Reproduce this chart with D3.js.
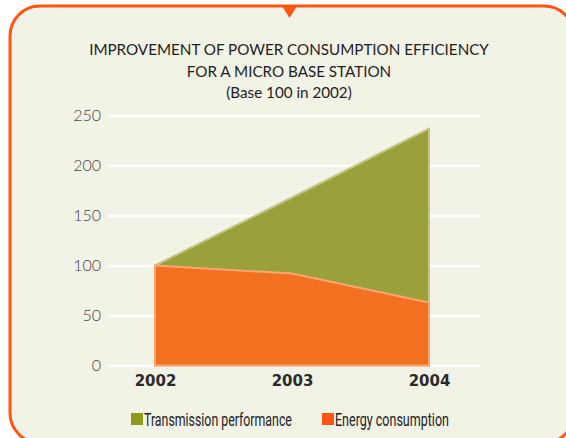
<!DOCTYPE html>
<html>
<head>
<meta charset="utf-8">
<script src="https://cdn.jsdelivr.net/npm/d3@7"></script>
<style>
  html, body { margin: 0; padding: 0; background: #fff; }
  svg { display: block; }
  .ytick text { font-family: 'Lato', sans-serif; font-weight: 300; font-size: 16px; fill: #444; }
  .xtick text { font-family: 'DejaVu Sans', sans-serif; font-weight: bold; font-size: 15px; fill: #2b2b2b; }
  .title { font-family: 'Lato', sans-serif; font-size: 15.2px; fill: #1e1e1e; }
  .legend text { font-family: 'Roboto', sans-serif; font-size: 19px; fill: #222; }
</style>
</head>
<body>
<script>
const years = ['2002', '2003', '2004'];
const transmission = [100, 168, 237];
const energy = [100, 92, 63];
const yTicks = [0, 50, 100, 150, 200, 250];
const titleLines = ['IMPROVEMENT OF POWER CONSUMPTION EFFICIENCY', 'FOR A MICRO BASE STATION', '(Base 100 in 2002)'];
const seriesNames = ['Transmission performance', 'Energy consumption'];

const width = 566, height = 438;

const svg = d3.select(document.body).append('svg')
  .attr('width', width)
  .attr('height', height);

// panel with orange rounded border
svg.append('rect')
  .attr('x', 10).attr('y', 6)
  .attr('width', 564).attr('height', 437)
  .attr('rx', 30).attr('ry', 30)
  .attr('fill', '#f3f2e7')
  .attr('stroke', '#ff5414')
  .attr('stroke-width', 3);

svg.append('path')
  .attr('d', 'M282,6 L297,6 L289.5,18 Z')
  .attr('fill', '#ff5414');

// title
svg.append('text')
  .attr('class', 'title')
  .attr('text-anchor', 'middle')
  .selectAll('tspan')
  .data(titleLines)
  .enter().append('tspan')
  .attr('x', 289)
  .attr('y', (d, i) => 55 + i * 21.5)
  .text(d => d);

const x = d3.scalePoint()
  .domain(years)
  .range([155, 429]);

const y = d3.scaleLinear()
  .domain([0, 250])
  .range([365.5, 115.5]);

// gridlines + y labels
const yAxis = svg.append('g')
  .attr('class', 'ytick')
  .attr('transform', 'translate(108,0)')
  .call(d3.axisLeft(y).tickValues(yTicks).tickSize(-372).tickPadding(7));
yAxis.select('.domain').remove();
yAxis.selectAll('line').attr('stroke', '#ffffff').attr('stroke-width', 2.5);

const data = years.map((yr, i) => ({ year: yr, t: transmission[i], e: energy[i] }));

const areaT = d3.area()
  .x(d => x(d.year))
  .y0(y(0))
  .y1(d => y(d.t));

const areaE = d3.area()
  .x(d => x(d.year))
  .y0(y(0))
  .y1(d => y(d.e));

svg.append('path')
  .datum(data)
  .attr('d', areaT)
  .attr('fill', '#9aa03a')
  .attr('stroke', '#c3c486')
  .attr('stroke-width', 2);

svg.append('path')
  .datum(data)
  .attr('d', areaE)
  .attr('fill', '#f37021')
  .attr('stroke', '#f9a673')
  .attr('stroke-width', 2);

// x labels
const xAxis = svg.append('g')
  .attr('class', 'xtick')
  .attr('transform', 'translate(0,368)')
  .call(d3.axisBottom(x).tickSize(0).tickPadding(7));
xAxis.select('.domain').remove();

// legend (condensed look: squeeze text horizontally)
const legendItems = [
  { name: seriesNames[0], color: '#8f9a1b', x: 131, w: 148 },
  { name: seriesNames[1], color: '#ff5412', x: 322, w: 114 }
];
const lg = svg.append('g').attr('class', 'legend')
  .selectAll('g')
  .data(legendItems)
  .enter().append('g')
  .attr('transform', d => `translate(${d.x},413)`);
lg.append('rect')
  .attr('width', 12).attr('height', 12)
  .attr('fill', d => d.color);
lg.append('text')
  .text(d => d.name)
  .attr('transform', function(d) {
    const k = d.w / this.getComputedTextLength();
    return `translate(13,13) scale(${k},1)`;
  });
</script>
</body>
</html>
